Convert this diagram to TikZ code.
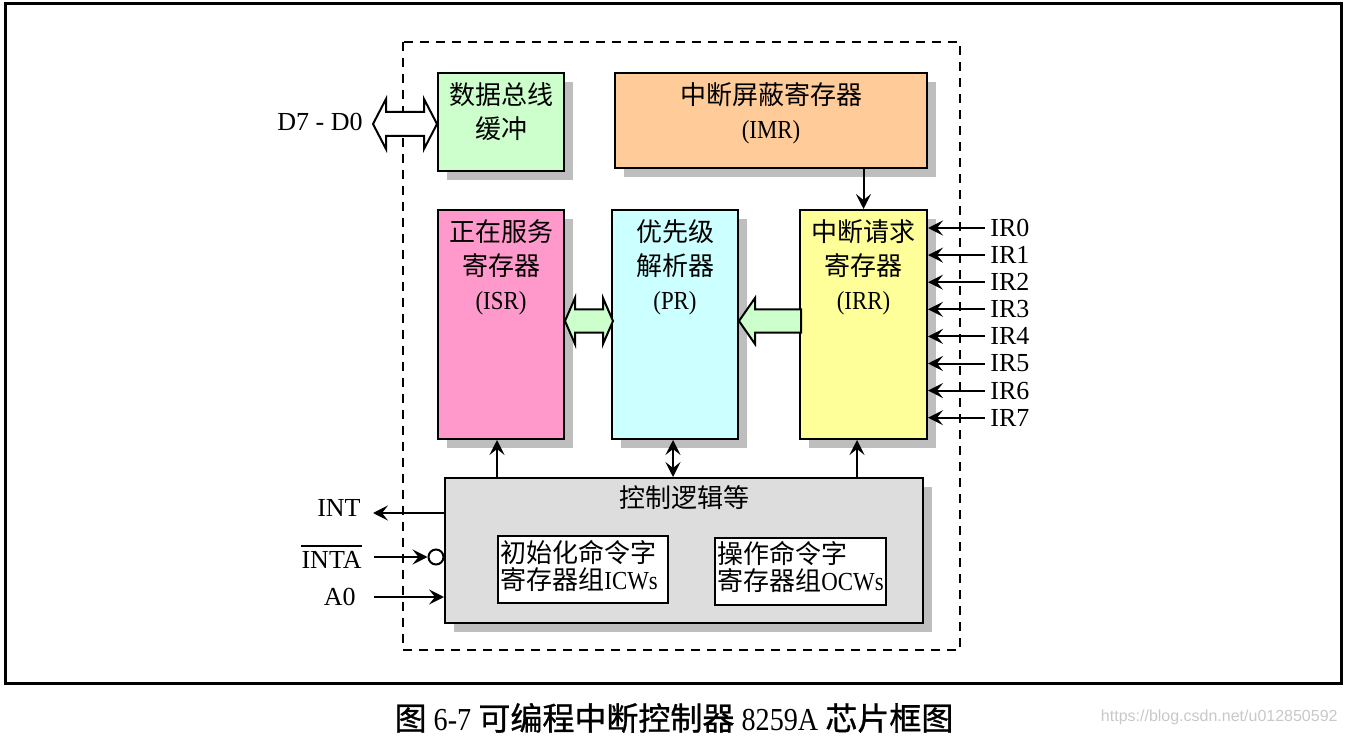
\documentclass[tikz,border=0pt]{standalone}
\usepackage{fontspec}
\setmainfont{Liberation Serif}
\newfontfamily\cjk{Noto Sans CJK SC}
\newfontfamily\latn[FakeStretch=0.88]{Liberation Serif}
\newfontfamily\capfont[FakeBold=1]{Noto Sans CJK SC}
\newfontfamily\wmfont{Liberation Sans}
\usetikzlibrary{arrows.meta,positioning,shadows,calc}

\definecolor{busgreen}{HTML}{CCFFCC}
\definecolor{imrorange}{HTML}{FFCC99}
\definecolor{isrpink}{HTML}{FF99CC}
\definecolor{prcyan}{HTML}{CCFFFF}
\definecolor{irryellow}{HTML}{FFFF99}
\definecolor{ctlgray}{HTML}{DDDDDD}
\definecolor{shadowgray}{HTML}{BEBEBE}
\definecolor{markgray}{HTML}{C8C8C8}

\tikzset{
  blk/.style={draw, line width=1pt, anchor=north west, inner sep=0pt,
    drop shadow={shadow xshift=4.5pt, shadow yshift=-4.5pt, fill=shadowgray, opacity=1}},
  inbox/.style={draw, line width=1pt, fill=white, anchor=north west, inner sep=0pt},
  txt/.style={inner sep=0pt, align=center, font=\cjk\fontsize{13pt}{17pt}\selectfont},
  pin/.style={inner sep=0pt, font=\fontsize{13pt}{15pt}\selectfont},
  sig/.style={line width=1pt, -{Stealth[length=7.5pt, width=7.5pt, inset=3pt]}},
  dsig/.style={line width=1pt, {Stealth[length=7.5pt, width=7.5pt, inset=3pt]}-{Stealth[length=7.5pt, width=7.5pt, inset=3pt]}},
  hollow/.style={line width=1pt, line join=miter},
}

\begin{document}
\begin{tikzpicture}[x=0.5pt, y=-0.5pt]
    \useasboundingbox (0,0) rectangle (1346,738);
    \draw[line width=1.5pt] (5,4) rectangle (1341,683);
    \draw[line width=1pt, dash pattern=on 4.5pt off 3.5pt] (403,42) rectangle (960,650);

    \node[blk, fill=busgreen, minimum width=63pt, minimum height=49pt] (dbb) at (437,72) {};
    \node[blk, fill=imrorange, minimum width=156pt, minimum height=47.5pt] (imr) at (614,72) {};
    \node[blk, fill=isrpink, minimum width=63pt, minimum height=114.5pt] (isr) at (437,209) {};
    \node[blk, fill=prcyan, minimum width=63pt, minimum height=114.5pt] (pr) at (611,209) {};
    \node[blk, fill=irryellow, minimum width=63.5pt, minimum height=114.5pt] (irr) at (799,209) {};
    \node[blk, fill=ctlgray, minimum width=239pt, minimum height=72.5pt] (ctl) at (444,477) {};
    \node[inbox, minimum width=85pt, minimum height=33.5pt] (icw) at (497,535) {};
    \node[inbox, minimum width=85.5pt, minimum height=33.5pt] (ocw) at (714,537) {};

    \node[txt, below=5pt of dbb.north] (dbbtxt) {数据总线\\缓冲};
    \node[txt, below=5pt of imr.north] (imrtxt) {中断屏蔽寄存器\\{\latn (IMR)}};
    \node[txt, below=5pt of isr.north] (isrtxt) {正在服务\\寄存器\\{\latn (ISR)}};
    \node[txt, below=5pt of pr.north] (prtxt) {优先级\\解析器\\{\latn (PR)}};
    \node[txt, below=5pt of irr.north] (irrtxt) {中断请求\\寄存器\\{\latn (IRR)}};
    \node[txt, below=4pt of ctl.north] (ctltxt) {控制逻辑等};
    \node[txt, align=left, font=\cjk\fontsize{13pt}{13.5pt}\selectfont,
          below right=2.5pt and 1.5pt of icw.north west] (icwtxt) {初始化命令字\\寄存器组{\latn ICWs}};
    \node[txt, align=left, font=\cjk\fontsize{13pt}{13.5pt}\selectfont,
          below right=2pt and 1.5pt of ocw.north west] (ocwtxt) {操作命令字\\寄存器组{\latn OCWs}};

    \draw[hollow, fill=white] ($(dbb.west)+(0,2)$) -- ++(-13,-25) -- ++(0,13) -- ++(-38,0) -- ++(0,-13)
        -- ++(-13,25) -- ++(13,25) -- ++(0,-13) -- ++(38,0) -- ++(0,13) -- cycle;
    \node[pin, anchor=east] (dbus) at (363,122) {D7 - D0};

    \draw[hollow, fill=busgreen] ($(isr.east)+(0,-3.5)$) -- ++(10,-23) -- ++(0,11.5) -- ++(28,0) -- ++(0,-11.5)
        -- ++(10,23) -- ++(-10,23) -- ++(0,-11.5) -- ++(-28,0) -- ++(0,11.5) -- cycle;
    \draw[hollow, fill=busgreen] ($(pr.east)+(0,-3.5)$) -- ++(16,-23) -- ++(0,11.5) -- ++(46,0)
        -- ++(0,23) -- ++(-46,0) -- ++(0,11.5) -- cycle;

    \draw[sig] (imr.south -| irr.north) -- (irr.north);
    \draw[sig] (ctl.north -| 497,0) -- (isr.south -| 497,0);
    \draw[dsig] (ctl.north -| 673,0) -- (pr.south -| 673,0);
    \draw[sig] (ctl.north -| 857,0) -- (irr.south -| 857,0);

    \foreach \i in {0,...,7} {
        \node[pin, anchor=west] (ir\i) at (990,228+27.1*\i) {IR\i};
        \draw[sig] ([xshift=-2.5pt]ir\i.west) -- (irr.east |- ir\i.west);
    }

    \coordinate (intp) at (373,513);
    \draw[sig] (ctl.west |- intp) -- (intp);
    \node[pin, anchor=east] (int) at (361,508) {INT};

    \coordinate (intap) at (374,557);
    \node[circle, draw, line width=1pt, fill=white, minimum size=7.5pt, inner sep=0pt] (ack) at (436,557) {};
    \draw[sig] (intap) -- (ack.west);
    \node[pin, anchor=east] (inta) at (362,560) {INTA};
    \draw[line width=1pt] ([yshift=2.5pt]inta.north west) -- ([yshift=2.5pt]inta.north east);

    \coordinate (a0p) at (374,597);
    \draw[sig] (a0p) -- (ctl.west |- a0p);
    \node[pin, anchor=east] (a0) at (356,597) {A0};

    \node[inner sep=0pt, font=\capfont\fontsize{16pt}{18pt}\selectfont] (cap) at (674,718)
        {图 {\latn 6-7} 可编程中断控制器 {\latn 8259A} 芯片框图};
    \node[inner sep=0pt, anchor=east, text=markgray, font=\wmfont\fontsize{8pt}{10pt}\selectfont] (mark) at (1338,717)
        {https://blog.csdn.net/u012850592};
\end{tikzpicture}
\end{document}
